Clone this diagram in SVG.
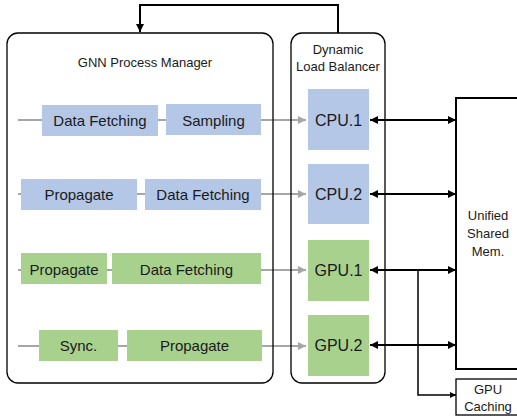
<svg xmlns="http://www.w3.org/2000/svg" width="517" height="420" viewBox="0 0 517 420">
<defs>
<marker id="ab" viewBox="0 0 10 10" refX="10" refY="5" markerWidth="4" markerHeight="4" orient="auto-start-reverse" markerUnits="strokeWidth"><path d="M0,0 L10,5 L0,10 z" fill="#000"/></marker>
<marker id="ag" viewBox="0 0 10 10" refX="10" refY="5" markerWidth="4" markerHeight="4" orient="auto" markerUnits="strokeWidth"><path d="M0,0 L10,5 L0,10 z" fill="#a6a6a6"/></marker>
<style>
text{font-family:"Liberation Sans",Arial,sans-serif;fill:#1a1a1a;text-anchor:middle;dominant-baseline:central}
.t{font-size:15px}
.l{font-size:13px}
.big{font-size:16px}
.blue{fill:#b4c7e7}
.green{fill:#a9d18e}
.frame{fill:none;stroke:#000;stroke-width:1.3}
.g{stroke:#a6a6a6;stroke-width:2;fill:none}
.k{stroke:#000;stroke-width:2;fill:none}
</style>
</defs>
<g id="connectors">
<line class="g" x1="18" y1="120" x2="306" y2="120" marker-end="url(#ag)"/>
<line class="g" x1="18" y1="194" x2="306" y2="194" marker-end="url(#ag)"/>
<line class="g" x1="18" y1="270" x2="306" y2="270" marker-end="url(#ag)"/>
<line class="g" x1="18" y1="346" x2="306" y2="346" marker-end="url(#ag)"/>
<polyline class="k" points="338,33 338,5 140,5 140,32" marker-end="url(#ab)"/>
<line class="k" x1="370" y1="120" x2="456" y2="120" marker-start="url(#ab)" marker-end="url(#ab)"/>
<line class="k" x1="370" y1="194" x2="456" y2="194" marker-start="url(#ab)" marker-end="url(#ab)"/>
<line class="k" x1="370" y1="270" x2="456" y2="270" marker-start="url(#ab)" marker-end="url(#ab)"/>
<line class="k" x1="370" y1="345" x2="456" y2="345" marker-start="url(#ab)" marker-end="url(#ab)"/>
<polyline class="k" points="418,270 418,395 456,395" marker-end="url(#ab)" style="stroke-width:1.5"/>
</g>
<g id="gnn-process-manager">
<rect class="frame" x="7" y="33" width="266" height="350" rx="11"/>
<text class="l" x="145" y="62">GNN Process Manager</text>
</g>
<g id="dynamic-load-balancer">
<rect class="frame" x="291" y="33" width="94" height="350" rx="11"/>
<text class="l" x="338" y="49">Dynamic</text>
<text class="l" x="338" y="66">Load Balancer</text>
</g>
<g id="row1-data-fetching"><rect class="blue" x="42" y="105" width="116" height="31"/><text class="t" x="100" y="120.5">Data Fetching</text></g>
<g id="row1-sampling"><rect class="blue" x="166" y="104" width="95" height="31"/><text class="t" x="213.5" y="120">Sampling</text></g>
<g id="row2-propagate"><rect class="blue" x="21" y="179" width="116" height="31"/><text class="t" x="79" y="194.5">Propagate</text></g>
<g id="row2-data-fetching"><rect class="blue" x="145" y="179" width="116" height="31"/><text class="t" x="203" y="194.5">Data Fetching</text></g>
<g id="row3-propagate"><rect class="green" x="21" y="253" width="86" height="31"/><text class="t" x="64" y="269">Propagate</text></g>
<g id="row3-data-fetching"><rect class="green" x="112" y="253" width="149" height="31"/><text class="t" x="186.5" y="269">Data Fetching</text></g>
<g id="row4-sync"><rect class="green" x="39" y="330" width="79" height="31"/><text class="t" x="78.5" y="345.5">Sync.</text></g>
<g id="row4-propagate"><rect class="green" x="127" y="330" width="135" height="31"/><text class="t" x="194.5" y="345.5">Propagate</text></g>
<g id="cpu1"><rect class="blue" x="308" y="89" width="61" height="61"/><text class="big" x="338.5" y="120">CPU.1</text></g>
<g id="cpu2"><rect class="blue" x="308" y="164" width="61" height="60"/><text class="big" x="338.5" y="194">CPU.2</text></g>
<g id="gpu1"><rect class="green" x="308" y="240" width="61" height="61"/><text class="big" x="338.5" y="270">GPU.1</text></g>
<g id="gpu2"><rect class="green" x="308" y="315" width="61" height="61"/><text class="big" x="338.5" y="345">GPU.2</text></g>
<g id="unified-shared-mem">
<rect x="456" y="98" width="70" height="271" fill="#fff" stroke="#000" stroke-width="2"/>
<text class="l" x="488" y="215">Unified</text>
<text class="l" x="488" y="233">Shared</text>
<text class="l" x="488" y="251">Mem.</text>
</g>
<g id="gpu-caching">
<rect x="456" y="379" width="70" height="36" fill="#fff" stroke="#000" stroke-width="1.3"/>
<text class="l" x="488" y="389">GPU</text>
<text class="l" x="488" y="406">Caching</text>
</g>
</svg>
